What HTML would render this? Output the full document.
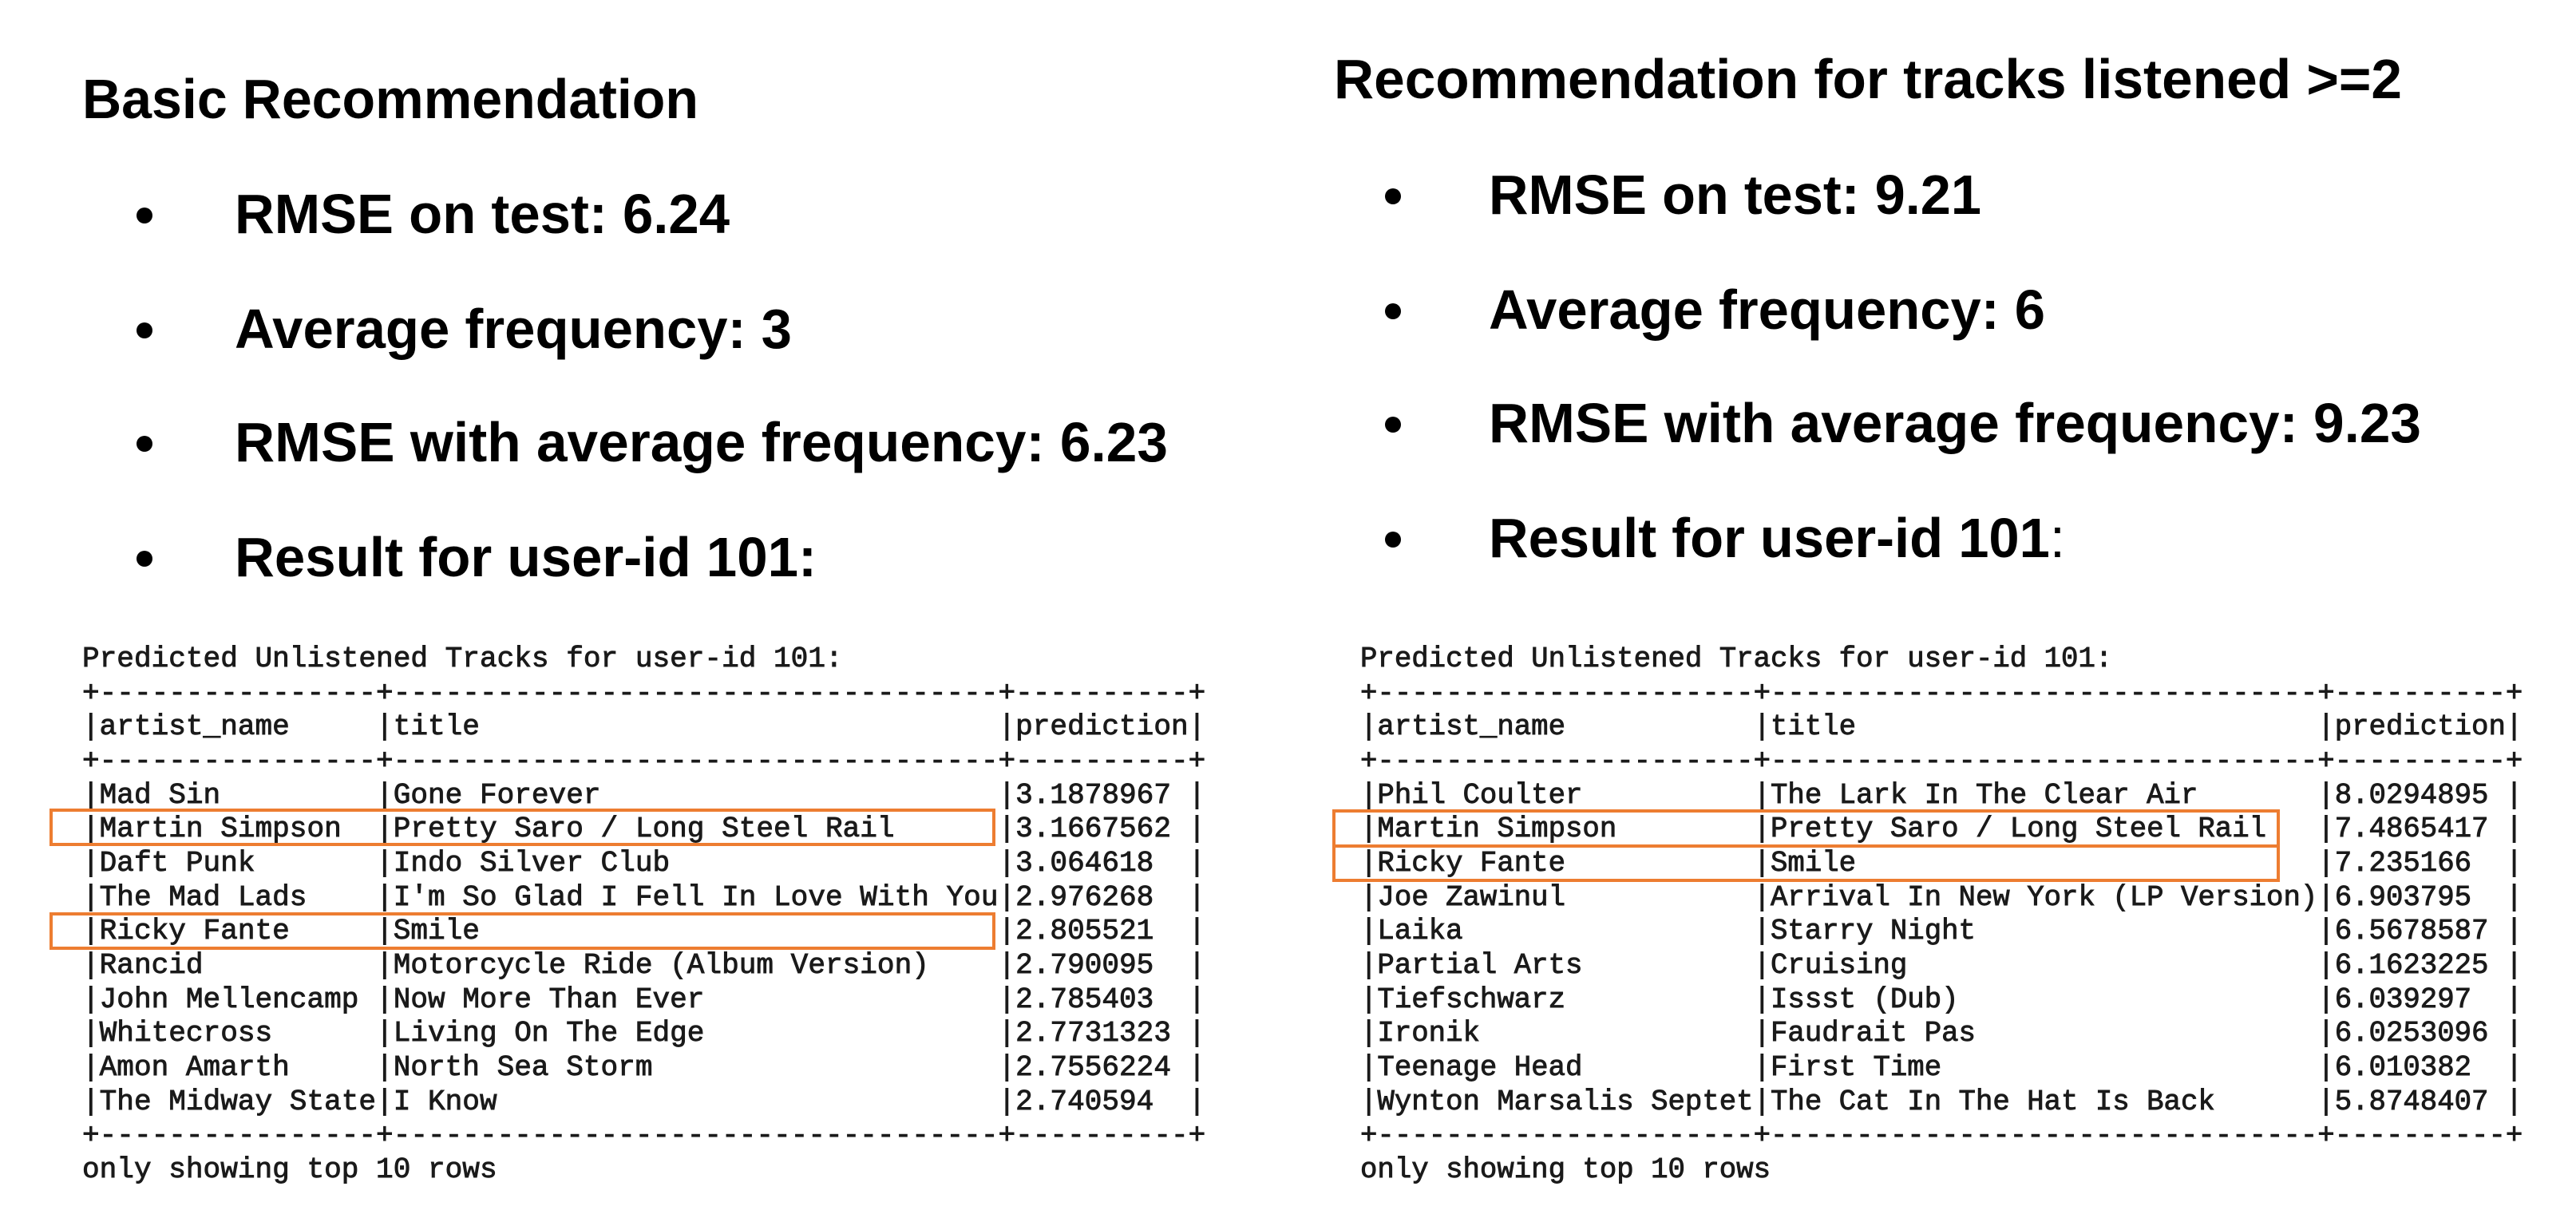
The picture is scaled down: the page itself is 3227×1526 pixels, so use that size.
<!DOCTYPE html>
<html><head><meta charset="utf-8"><style>
html,body{margin:0;padding:0;background:#fff;}
svg{display:block;}
.h{font-family:"Liberation Sans",sans-serif;font-weight:bold;font-size:70px;fill:#000;}
.m{font-family:"Liberation Mono",monospace;fill:#1a1a1a;stroke:#1a1a1a;stroke-width:0.9px;white-space:pre;}
</style></head><body>
<svg width="3227" height="1526" viewBox="0 0 3227 1526" xmlns="http://www.w3.org/2000/svg">
<rect width="3227" height="1526" fill="#fff"/>
<text class="h" x="103" y="148" textLength="772" lengthAdjust="spacingAndGlyphs">Basic Recommendation</text>
<circle cx="181" cy="270" r="10" fill="#000"/>
<circle cx="181" cy="414" r="10" fill="#000"/>
<circle cx="181" cy="556" r="10" fill="#000"/>
<circle cx="181" cy="700" r="10" fill="#000"/>
<text class="h" x="294" y="292" textLength="620" lengthAdjust="spacingAndGlyphs">RMSE on test: 6.24</text>
<text class="h" x="294" y="436" textLength="698" lengthAdjust="spacingAndGlyphs">Average frequency: 3</text>
<text class="h" x="294" y="578" textLength="1169" lengthAdjust="spacingAndGlyphs">RMSE with average frequency: 6.23</text>
<text class="h" x="294" y="722" textLength="729" lengthAdjust="spacingAndGlyphs">Result for user-id 101:</text>
<text class="h" x="1671" y="123" textLength="1338" lengthAdjust="spacingAndGlyphs">Recommendation for tracks listened &gt;=2</text>
<circle cx="1745" cy="246" r="10" fill="#000"/>
<circle cx="1745" cy="390" r="10" fill="#000"/>
<circle cx="1745" cy="532" r="10" fill="#000"/>
<circle cx="1745" cy="676" r="10" fill="#000"/>
<text class="h" x="1865" y="268" textLength="617" lengthAdjust="spacingAndGlyphs">RMSE on test: 9.21</text>
<text class="h" x="1865" y="412" textLength="697" lengthAdjust="spacingAndGlyphs">Average frequency: 6</text>
<text class="h" x="1865" y="554" textLength="1168" lengthAdjust="spacingAndGlyphs">RMSE with average frequency: 9.23</text>
<text class="h" x="1865" y="698" textLength="722" lengthAdjust="spacingAndGlyphs">Result for user-id 101<tspan font-weight="normal">:</tspan></text>

<g class="m" font-size="36.1px">
<text x="103" y="835" xml:space="preserve">Predicted Unlistened Tracks for user-id 101:</text>
<text x="103" y="878" xml:space="preserve">+----------------+-----------------------------------+----------+</text>
<text x="103" y="920" xml:space="preserve">|artist_name     |title                              |prediction|</text>
<text x="103" y="963" xml:space="preserve">+----------------+-----------------------------------+----------+</text>
<text x="103" y="1006" xml:space="preserve">|Mad Sin         |Gone Forever                       |3.1878967 |</text>
<text x="103" y="1048" xml:space="preserve">|Martin Simpson  |Pretty Saro / Long Steel Rail      |3.1667562 |</text>
<text x="103" y="1091" xml:space="preserve">|Daft Punk       |Indo Silver Club                   |3.064618  |</text>
<text x="103" y="1134" xml:space="preserve">|The Mad Lads    |I'm So Glad I Fell In Love With You|2.976268  |</text>
<text x="103" y="1176" xml:space="preserve">|Ricky Fante     |Smile                              |2.805521  |</text>
<text x="103" y="1219" xml:space="preserve">|Rancid          |Motorcycle Ride (Album Version)    |2.790095  |</text>
<text x="103" y="1262" xml:space="preserve">|John Mellencamp |Now More Than Ever                 |2.785403  |</text>
<text x="103" y="1304" xml:space="preserve">|Whitecross      |Living On The Edge                 |2.7731323 |</text>
<text x="103" y="1347" xml:space="preserve">|Amon Amarth     |North Sea Storm                    |2.7556224 |</text>
<text x="103" y="1390" xml:space="preserve">|The Midway State|I Know                             |2.740594  |</text>
<text x="103" y="1432" xml:space="preserve">+----------------+-----------------------------------+----------+</text>
<text x="103" y="1475" xml:space="preserve">only showing top 10 rows</text>
</g>
<rect x="64" y="1015" width="1181" height="43" fill="none" stroke="#ED7D31" stroke-width="4"/>
<rect x="64" y="1145" width="1181" height="43" fill="none" stroke="#ED7D31" stroke-width="4"/>

<g class="m" font-size="35.7px">
<text x="1704" y="835" xml:space="preserve">Predicted Unlistened Tracks for user-id 101:</text>
<text x="1704" y="878" xml:space="preserve">+----------------------+--------------------------------+----------+</text>
<text x="1704" y="920" xml:space="preserve">|artist_name           |title                           |prediction|</text>
<text x="1704" y="963" xml:space="preserve">+----------------------+--------------------------------+----------+</text>
<text x="1704" y="1006" xml:space="preserve">|Phil Coulter          |The Lark In The Clear Air       |8.0294895 |</text>
<text x="1704" y="1048" xml:space="preserve">|Martin Simpson        |Pretty Saro / Long Steel Rail   |7.4865417 |</text>
<text x="1704" y="1091" xml:space="preserve">|Ricky Fante           |Smile                           |7.235166  |</text>
<text x="1704" y="1134" xml:space="preserve">|Joe Zawinul           |Arrival In New York (LP Version)|6.903795  |</text>
<text x="1704" y="1176" xml:space="preserve">|Laika                 |Starry Night                    |6.5678587 |</text>
<text x="1704" y="1219" xml:space="preserve">|Partial Arts          |Cruising                        |6.1623225 |</text>
<text x="1704" y="1262" xml:space="preserve">|Tiefschwarz           |Issst (Dub)                     |6.039297  |</text>
<text x="1704" y="1304" xml:space="preserve">|Ironik                |Faudrait Pas                    |6.0253096 |</text>
<text x="1704" y="1347" xml:space="preserve">|Teenage Head          |First Time                      |6.010382  |</text>
<text x="1704" y="1390" xml:space="preserve">|Wynton Marsalis Septet|The Cat In The Hat Is Back      |5.8748407 |</text>
<text x="1704" y="1432" xml:space="preserve">+----------------------+--------------------------------+----------+</text>
<text x="1704" y="1475" xml:space="preserve">only showing top 10 rows</text>
</g>
<rect x="1671" y="1016" width="1183" height="44" fill="none" stroke="#ED7D31" stroke-width="4"/>
<rect x="1671" y="1060" width="1183" height="43" fill="none" stroke="#ED7D31" stroke-width="4"/>
</svg>
</body></html>
